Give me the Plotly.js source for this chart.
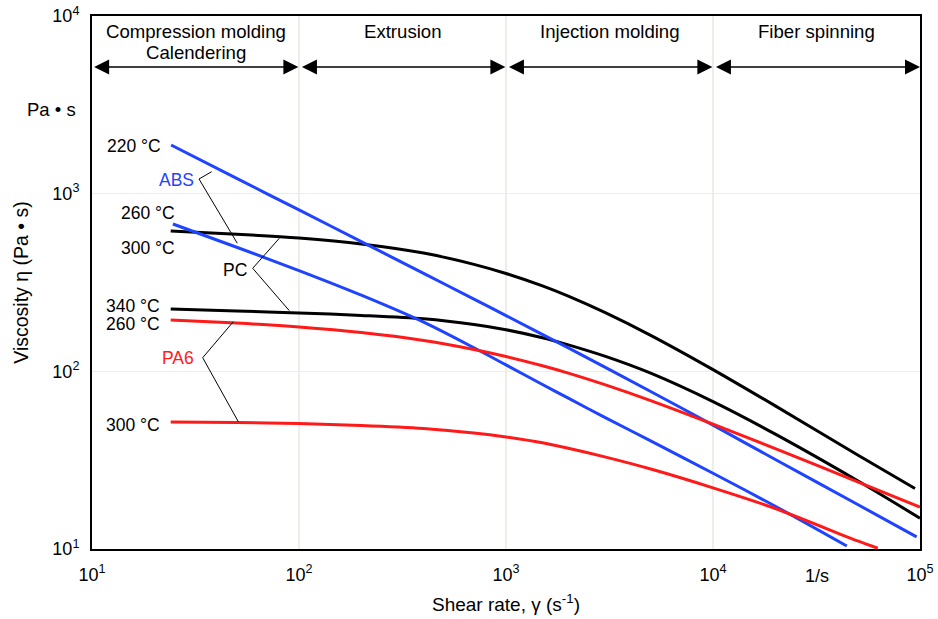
<!DOCTYPE html>
<html>
<head>
<meta charset="utf-8">
<script src="https://cdn.plot.ly/plotly-3.0.1.min.js"></script>
<style>html,body{margin:0;padding:0;background:#fff;}#chart{width:938px;height:619px;}</style>
</head>
<body>
<div id="chart"></div>
<script>
// ---- data (shear rate in 1/s, viscosity in Pa·s) ----
const pc260X  = [24, 50, 100, 200, 400, 700, 1000, 1500, 2000, 3000, 5000, 10000, 20000, 50000, 94600];
const pc260Y  = [616, 591.3, 562.2, 521.2, 463.0, 400.1, 355.3, 302.6, 265.1, 214.6, 159.5, 102.3, 63.9, 33.8, 21.9];
const pc340X  = [24, 50, 100, 200, 400, 700, 1000, 1500, 2000, 3000, 5000, 10000, 20000, 50000, 100000];
const pc340Y  = [224.3, 218.6, 213.3, 206.4, 197.5, 183.5, 171.5, 154.5, 140.9, 121.7, 97.6, 67.5, 44.3, 24.2, 14.9];
const abs220X = [24.1, 50, 100, 200, 400, 700, 1000, 2000, 5000, 10000, 20000, 50000, 96300];
const abs220Y = [1879, 1219, 810, 537, 356, 255, 206, 135.5, 77, 49.8, 31.9, 17.8, 11.7];
const abs260X = [24.6, 50, 100, 200, 400, 700, 1000, 1500, 2000, 3000, 5000, 10000, 20000, 44300];
const abs260Y = [675, 499.3, 368.9, 268.2, 189.1, 135.7, 108.7, 84.3, 70.6, 55.1, 40.6, 26.7, 17.4, 10.4];
const pa260X  = [24, 50, 100, 200, 400, 700, 1000, 1500, 2000, 3000, 5000, 10000, 20000, 50000, 100000];
const pa260Y  = [194.5, 186.8, 177.6, 165.4, 149.2, 132.8, 121.2, 107.4, 97.7, 84.1, 68.4, 50.4, 36.7, 23.9, 17.2];
const pa300X  = [24, 50, 100, 200, 400, 700, 1000, 1500, 2000, 3000, 5000, 10000, 20000, 50000, 62500];
const pa300Y  = [51.9, 51.5, 50.8, 49.6, 47.7, 45.0, 42.7, 39.6, 36.9, 33.0, 28.2, 22.1, 16.9, 11.1, 10.1];

const xTickVals = [10, 100, 1000, 10000, 100000];
const xTickText = ['10<sup>1</sup>', '10<sup>2</sup>', '10<sup>3</sup>', '10<sup>4</sup>', '10<sup>5</sup>'];
const yTickVals = [10, 100, 1000, 10000];
const yTickText = ['10<sup>1</sup>', '10<sup>2</sup>', '10<sup>3</sup>', '10<sup>4</sup>'];

const stageNames = ['Compression molding', 'Extrusion', 'Injection molding', 'Fiber spinning'];
const stageSub   = ['Calendering', '', '', ''];
const stageFrom  = [10, 100, 1000, 10000];
const stageTo    = [100, 1000, 10000, 100000];

// ---- styling / layout helpers ----
const FONT = 'Liberation Sans, Arial, Helvetica, sans-serif';
const BLUE = '#1f44ff', RED = '#ff1a1a', BLACK = '#000000';
const L = 92, R = 920, T = 16, B = 549;
const px = v => (v - L) / (R - L);
const py = v => (B - v) / (B - T);

function series(x, y, color) {
  return {x: x, y: y, type: 'scatter', mode: 'lines',
          line: {color: color, width: 3, shape: 'spline', smoothing: 0.8},
          hoverinfo: 'skip', showlegend: false};
}

const traces = [
  series(pc260X, pc260Y, BLACK),
  series(pc340X, pc340Y, BLACK),
  series(abs220X, abs220Y, BLUE),
  series(abs260X, abs260Y, BLUE),
  series(pa260X, pa260Y, RED),
  series(pa300X, pa300Y, RED)
];

const annotations = [];
function label(text, xr, yc, color) {
  annotations.push({xref: 'paper', yref: 'paper', x: px(xr), y: py(yc), text: text,
    showarrow: false, xanchor: 'right', yanchor: 'middle',
    font: {family: FONT, size: 17.5, color: color || BLACK}});
}
label('220 °C', 163, 146);
label('ABS', 196, 180, BLUE);
label('260 °C', 177, 213);
label('300 °C', 177, 248);
label('PC', 249, 270);
label('340 °C', 162, 306);
label('260 °C', 162, 324);
label('PA6', 196, 358, RED);
label('300 °C', 162, 425);

annotations.push({xref: 'paper', yref: 'paper', x: px(77.5), y: py(109), text: 'Pa • s',
  showarrow: false, xanchor: 'right', yanchor: 'middle', font: {family: FONT, size: 18.5, color: BLACK}});

annotations.push({xref: 'x', yref: 'paper', x: 4.5, y: py(576), text: '1/s',
  showarrow: false, xanchor: 'center', yanchor: 'middle', font: {family: FONT, size: 18, color: BLACK}});

stageNames.forEach((name, i) => {
  const a = Math.log10(stageFrom[i]), b = Math.log10(stageTo[i]);
  annotations.push({xref: 'x', yref: 'paper', x: (a + b) / 2, y: py(31), text: name,
    showarrow: false, xanchor: 'center', yanchor: 'middle', font: {family: FONT, size: 18.6, color: BLACK}});
  if (stageSub[i]) {
    annotations.push({xref: 'x', yref: 'paper', x: (a + b) / 2, y: py(52), text: stageSub[i],
      showarrow: false, xanchor: 'center', yanchor: 'middle', font: {family: FONT, size: 18.6, color: BLACK}});
  }
  annotations.push({xref: 'x', yref: 'paper', axref: 'x', ayref: 'pixel',
    x: b - (i === 3 ? 0 : 0.003), y: py(67), ax: a + (i === 0 ? 0.003 : 0.007), ay: 0,
    text: '', showarrow: true, arrowside: 'end+start', arrowhead: 2, startarrowhead: 2,
    arrowsize: 2, startarrowsize: 2, arrowwidth: 1.5, arrowcolor: BLACK, standoff: 0, startstandoff: 0});
});

function bracket(v, a1, a2) {
  return [a1, a2].map(e => ({type: 'line', xref: 'paper', yref: 'paper',
    x0: px(v[0]), y0: py(v[1]), x1: px(e[0]), y1: py(e[1]), line: {color: BLACK, width: 1}}));
}
const shapes = [].concat(
  bracket([199, 179], [211.7, 171.7], [237.3, 243.3]),
  bracket([252.7, 268.3], [279.3, 238.3], [289.3, 310.7]),
  bracket([202.7, 357.7], [233.3, 321.7], [238.3, 421.7])
);

const layout = {
  width: 938, height: 619,
  margin: {l: L, r: 938 - R, t: T, b: 619 - B},
  paper_bgcolor: '#ffffff', plot_bgcolor: '#ffffff',
  font: {family: FONT, size: 18, color: BLACK},
  xaxis: {type: 'log', range: [1, 5], tickvals: xTickVals, ticktext: xTickText,
    showgrid: true, gridcolor: '#eeede6', gridwidth: 1.5, zeroline: false,
    showline: true, linecolor: BLACK, linewidth: 2, mirror: true, ticks: '',
    ticklabelstandoff: 8, tickfont: {family: FONT, size: 18, color: BLACK},
    title: {text: 'Shear rate, γ (s<sup>-1</sup>)', font: {family: FONT, size: 19, color: BLACK}, standoff: 14}},
  yaxis: {type: 'log', range: [1, 4], tickvals: yTickVals, ticktext: yTickText,
    showgrid: true, gridcolor: '#eeede6', gridwidth: 1.5, zeroline: false,
    showline: true, linecolor: BLACK, linewidth: 2, mirror: true, ticks: '',
    ticklabelstandoff: 7, tickfont: {family: FONT, size: 18, color: BLACK},
    title: {text: 'Viscosity η (Pa • s)', font: {family: FONT, size: 19.5, color: BLACK}, standoff: 19}},
  annotations: annotations,
  shapes: shapes,
  showlegend: false
};

Plotly.newPlot('chart', traces, layout, {staticPlot: true, displayModeBar: false});
</script>
</body>
</html>
